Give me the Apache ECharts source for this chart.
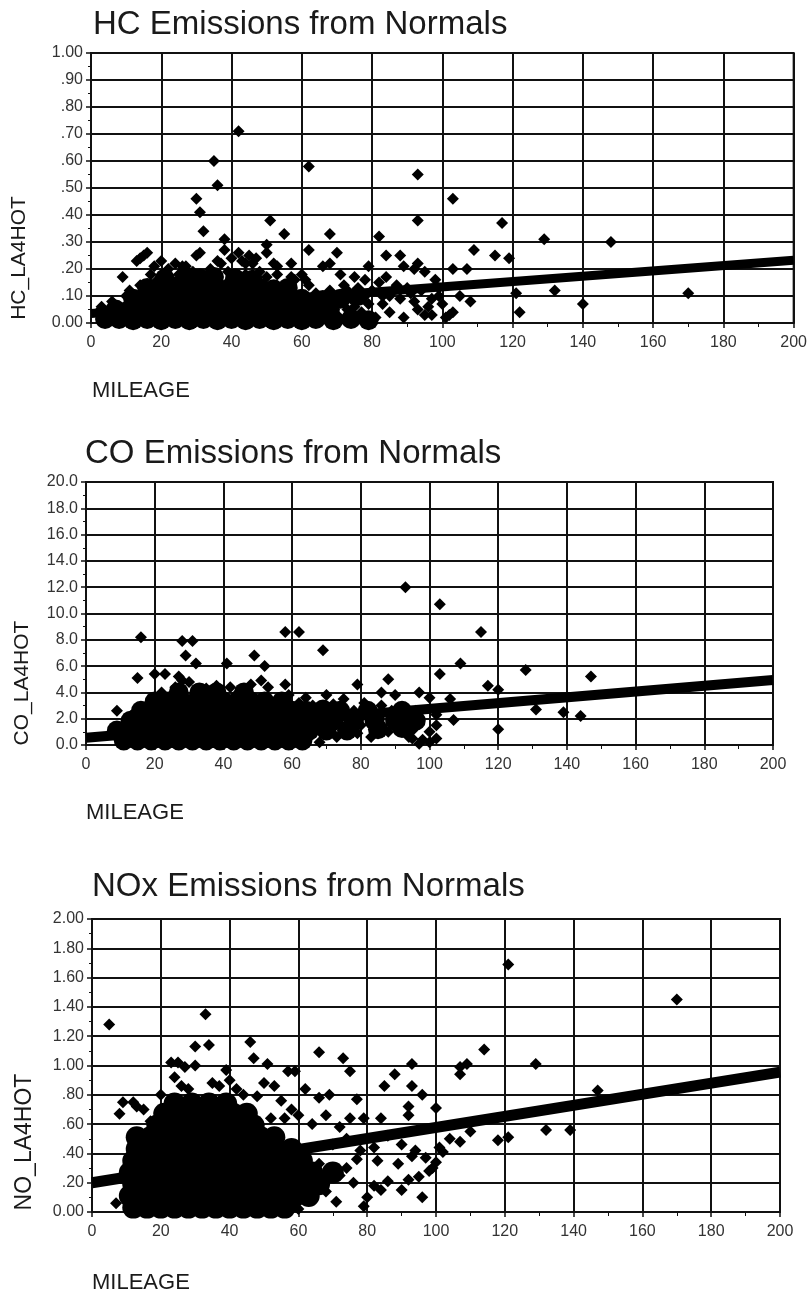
<!DOCTYPE html>
<html>
<head>
<meta charset="utf-8">
<title>Emissions from Normals</title>
<script src="https://cdn.jsdelivr.net/npm/echarts@6/dist/echarts.min.js"></script>
<style>
  html, body { margin: 0; padding: 0; background: #fff; }
  #chart { width: 810px; height: 1300px; }
</style>
</head>
<body>
<div id="chart"></div>
<script>
// tick labels
const mileageTicks = ['0', '20', '40', '60', '80', '100', '120', '140', '160', '180', '200']
const hcTicks = ['0.00', '.10', '.20', '.30', '.40', '.50', '.60', '.70', '.80', '.90', '1.00']
const coTicks = ['0.0', '2.0', '4.0', '6.0', '8.0', '10.0', '12.0', '14.0', '16.0', '18.0', '20.0']
const noTicks = ['0.00', '.20', '.40', '.60', '.80', '1.00', '1.20', '1.40', '1.60', '1.80', '2.00']

// HC: dense cloud, single points, fitted line (mileage, g/mi)
const hcCore = [
  [4,0.015],[8,0.015],[12,0.01],[16,0.015],[20,0.01],[24,0.015],[28,0.01],[32,0.015],[36,0.01],[40,0.015],
  [44,0.01],[48,0.015],[52,0.01],[56,0.015],[60,0.01],[64,0.015],[69,0.01],[74,0.015],[79,0.01],
  [7,0.05],[11,0.05],[15,0.055],[19,0.05],[23,0.055],[27,0.05],[31,0.055],[35,0.05],[39,0.055],[43,0.05],
  [47,0.055],[51,0.05],[55,0.055],[59,0.05],[63,0.045],[68,0.05],
  [12,0.09],[16,0.09],[20,0.095],[24,0.09],[28,0.095],[32,0.09],[36,0.095],[40,0.09],[44,0.095],[48,0.09],
  [52,0.095],[56,0.09],[60,0.09],[66,0.085],[71,0.09],[76,0.1],
  [16,0.13],[20,0.13],[24,0.135],[28,0.13],[32,0.135],[36,0.13],[40,0.135],[44,0.13],[48,0.13],[52,0.125],[56,0.13],
  [21,0.165],[27,0.17],[31,0.165],[35,0.17],[41,0.165],[46,0.16]
]
const hcPoints = [
  [42,0.71],[35,0.60],[36,0.51],[62,0.58],[93,0.55],[103,0.46],[30,0.46],[31,0.41],[51,0.38],[93,0.38],
  [117,0.37],[55,0.33],[68,0.33],[32,0.34],[38,0.31],[82,0.32],[129,0.31],[148,0.30],[50,0.29],[62,0.27],
  [70,0.26],[109,0.27],[115,0.25],[119,0.24],[88,0.25],[170,0.11],[132,0.12],[140,0.07],[122,0.04],[121,0.11],
  [108,0.08],[103,0.20],[107,0.20],[9,0.17],[14,0.24],[15,0.25],[16,0.26],[13,0.23],[30,0.25],[31,0.26],
  [38,0.27],[42,0.26],[45,0.25],[50,0.26],[93,0.22],[102,0.03],[103,0.04],[95,0.03],[96,0.06],[85,0.04],
  [24,0.22],[27,0.21],[37,0.22],[43,0.23],[46,0.22],[53,0.21],[57,0.22],[66,0.21],[68,0.22],[71,0.18],
  [79,0.21],[89,0.21],[92,0.20],[95,0.19],[22,0.20],[34,0.20],[48,0.19],[60,0.18],[75,0.17],[78,0.16],
  [84,0.17],[98,0.16],[88,0.09],[92,0.08],[99,0.10],[100,0.07],[101,0.02],[83,0.07],[90,0.13],[86,0.12],
  [81,0.02],[70,0.03],[75,0.06],[78,0.10],[65,0.04],[67,0.08],[73,0.12],[62,0.14],[64,0.11],[58,0.16],
  [105,0.10],[72,0.14],[76,0.13],[80,0.12],[82,0.15],[85,0.10],[87,0.14],[91,0.11],[94,0.12],[97,0.09],
  [99,0.13],[97,0.03],[93,0.05],[89,0.02],[83,0.10],[79,0.07],[74,0.09],[71,0.10],[77,0.04],[73,0.05],
  [68,0.12],[61,0.16],[57,0.17],[53,0.18],[50,0.17],[44,0.18],[39,0.19],[33,0.18],[29,0.19],[25,0.18],
  [19,0.16],[17,0.18],[14,0.14],[11,0.12],[10,0.10],[6,0.08],[3,0.06],[2,0.04],[36,0.23],[40,0.24],
  [47,0.24],[44,0.22],[52,0.22],[26,0.21],[18,0.21],[20,0.23],[84,0.25]
]
const hcFit = [[0,0.035],[200,0.232]]

// CO
const coCore = [
  [11,0.35],[15,0.35],[19,0.35],[23,0.35],[27,0.35],[31,0.35],[35,0.35],[39,0.35],[43,0.35],[47,0.35],
  [51,0.35],[55,0.35],[59,0.35],[63,0.35],
  [9,1.1],[13,1.1],[17,1.1],[21,1.1],[25,1.1],[29,1.1],[33,1.1],[37,1.1],[41,1.1],[45,1.1],
  [49,1.1],[53,1.1],[57,1.1],[61,1.1],[65,1.1],[70,1.1],[76,1.1],[85,1.2],[92,1.3],
  [13,1.85],[17,1.85],[21,1.85],[25,1.85],[29,1.85],[33,1.85],[37,1.85],[41,1.85],[45,1.85],[49,1.85],
  [53,1.85],[57,1.85],[61,1.85],[66,1.85],[72,1.85],[78,1.85],[84,1.85],[90,1.85],[96,1.85],
  [16,2.6],[20,2.6],[24,2.6],[28,2.6],[32,2.6],[36,2.6],[40,2.6],[44,2.6],[48,2.6],[52,2.6],
  [56,2.6],[60,2.6],[64,2.6],[69,2.7],[74,2.6],[82,2.6],[92,2.6],
  [20,3.3],[24,3.3],[28,3.3],[32,3.3],[36,3.3],[40,3.3],[44,3.3],[48,3.3],[52,3.3],[57,3.3],
  [27,4.0],[33,4.0],[38,4.0],[46,4.0]
]
const coPoints = [
  [93,12.0],[103,10.7],[16,8.2],[28,7.9],[31,7.9],[58,8.6],[62,8.6],[69,7.2],[115,8.6],[29,6.8],
  [32,6.2],[49,6.8],[52,6.0],[41,6.2],[109,6.2],[15,5.1],[103,5.4],[88,5.0],[128,5.7],[147,5.2],
  [117,4.5],[120,4.2],[79,4.6],[131,2.7],[139,2.5],[144,2.2],[120,1.2],[107,1.9],[9,2.6],[13,2.2],
  [20,5.4],[23,5.4],[27,5.2],[28,4.9],[30,4.8],[26,4.4],[22,4.0],[42,4.4],[48,4.6],[51,4.9],
  [58,4.6],[47,4.0],[53,4.4],[35,4.3],[38,4.5],[44,3.9],[59,3.8],[64,3.6],[70,3.8],[75,3.5],
  [81,3.2],[90,3.8],[86,3.0],[93,2.2],[96,1.6],[102,1.5],[102,2.3],[102,0.5],[100,3.6],[97,4.0],
  [106,3.5],[88,1.0],[94,0.6],[98,0.4],[83,0.6],[79,0.9],[73,0.6],[68,0.2],[66,0.9],[70,1.4],
  [75,1.1],[80,1.5],[85,1.4],[90,1.7],[95,1.1],[100,1.0],[96,2.6],[68,2.8],[72,3.1],[78,2.6],
  [84,2.5],[89,2.6],[62,3.2],[66,3.0],[12,1.6],[10,0.8],[100,0.2],[97,0.1],[86,4.0],[95,0.5]
]
const coFit = [[0,0.55],[200,4.95]]

// NOx
const noCore = [
  [12,0.03],[16,0.03],[20,0.03],[24,0.03],[28,0.03],[32,0.03],[36,0.03],[40,0.03],[44,0.03],[48,0.03],[52,0.03],[56,0.03],
  [11,0.11],[15,0.11],[19,0.11],[23,0.11],[27,0.11],[31,0.11],[35,0.11],[39,0.11],[43,0.11],[47,0.11],[51,0.11],[55,0.11],[59,0.11],[63,0.11],
  [12,0.19],[16,0.19],[20,0.19],[24,0.19],[28,0.19],[32,0.19],[36,0.19],[40,0.19],[44,0.19],[48,0.19],[52,0.19],[56,0.19],[60,0.19],[66,0.19],
  [11,0.27],[15,0.27],[19,0.27],[23,0.27],[27,0.27],[31,0.27],[35,0.27],[39,0.27],[43,0.27],[47,0.27],[51,0.27],[55,0.27],[59,0.27],[64,0.27],[70,0.27],
  [12,0.35],[16,0.35],[20,0.35],[24,0.35],[28,0.35],[32,0.35],[36,0.35],[40,0.35],[44,0.35],[48,0.35],[52,0.35],[56,0.35],[61,0.35],
  [13,0.43],[17,0.43],[21,0.43],[25,0.43],[29,0.43],[33,0.43],[37,0.43],[41,0.43],[45,0.43],[49,0.43],[53,0.43],[58,0.43],
  [13,0.51],[17,0.51],[21,0.51],[25,0.51],[29,0.51],[33,0.51],[37,0.51],[41,0.51],[45,0.51],[49,0.51],[53,0.51],
  [19,0.59],[23,0.59],[27,0.59],[31,0.59],[35,0.59],[39,0.59],[43,0.59],[47,0.59],
  [21,0.67],[25,0.67],[29,0.67],[33,0.67],[37,0.67],[41,0.67],[45,0.67],
  [24,0.74],[29,0.74],[34,0.74],[39,0.74]
]
const noPoints = [
  [121,1.69],[170,1.45],[5,1.28],[33,1.35],[30,1.13],[34,1.14],[46,1.16],[47,1.05],[51,1.01],[66,1.09],
  [73,1.05],[75,0.96],[114,1.11],[129,1.01],[107,0.99],[107,0.94],[109,1.01],[93,1.01],[88,0.94],[59,0.96],
  [57,0.96],[147,0.83],[132,0.56],[139,0.56],[118,0.49],[121,0.51],[107,0.48],[101,0.44],[102,0.41],[99,0.30],
  [96,0.10],[71,0.07],[62,0.09],[79,0.04],[84,0.15],[93,0.86],[96,0.80],[100,0.71],[92,0.72],[92,0.66],
  [85,0.86],[79,0.64],[84,0.64],[75,0.64],[77,0.77],[69,0.80],[66,0.78],[62,0.84],[89,0.33],[93,0.38],
  [92,0.22],[86,0.21],[83,0.35],[77,0.36],[74,0.30],[9,0.75],[12,0.75],[8,0.67],[13,0.72],[15,0.70],
  [7,0.06],[23,1.02],[25,1.02],[27,0.99],[24,0.92],[26,0.86],[30,1.00],[39,0.97],[40,0.90],[35,0.88],
  [37,0.86],[42,0.84],[44,0.80],[48,0.79],[50,0.88],[53,0.86],[55,0.76],[58,0.70],[60,0.66],[64,0.60],
  [68,0.66],[72,0.58],[70,0.46],[74,0.50],[78,0.42],[82,0.44],[86,0.52],[90,0.46],[94,0.42],[97,0.37],
  [98,0.28],[95,0.24],[90,0.15],[82,0.18],[76,0.20],[72,0.25],[68,0.14],[66,0.33],[60,0.02],[64,0.20],
  [80,0.10],[20,0.80],[17,0.62],[28,0.84],[100,0.34],[104,0.50],[110,0.55],[56,0.64],[46,0.70],[52,0.64]
]
const noFit = [[0,0.20],[200,0.955]]

const FONT = '"Liberation Sans", Arial, sans-serif'
const INK = '#111'

const panels = [
  { grid: { left: 91, top: 53, width: 704, height: 270 }, max: 1, step: 0.1, ticks: hcTicks,
    core: hcCore, coreSize: 20, points: hcPoints, fit: hcFit, fitWidth: 9,
    title: 'HC Emissions from Normals', titlePos: [93, 25],
    yName: 'HC_LA4HOT', yNamePos: [19, 258], yNameSize: 21, xNamePos: [92, 391] },
  { grid: { left: 86, top: 482, width: 687, height: 263 }, max: 20, step: 2, ticks: coTicks,
    core: coCore, coreSize: 20, points: coPoints, fit: coFit, fitWidth: 10,
    title: 'CO Emissions from Normals', titlePos: [85, 454],
    yName: 'CO_LA4HOT', yNamePos: [22, 683], yNameSize: 21, xNamePos: [86, 813] },
  { grid: { left: 92, top: 919, width: 688, height: 293 }, max: 2, step: 0.2, ticks: noTicks,
    core: noCore, coreSize: 22, points: noPoints, fit: noFit, fitWidth: 11,
    title: 'NOx Emissions from Normals', titlePos: [92, 887],
    yName: 'NO_LA4HOT', yNamePos: [25, 1142], yNameSize: 23, xNamePos: [92, 1283] }
]

const lineStyle = { color: INK, width: 2 }
const labelStyle = { color: '#333', fontSize: 16, fontFamily: FONT }

const option = {
  animation: false,
  backgroundColor: '#fff',
  grid: panels.map(p => ({ ...p.grid, show: true, borderColor: INK, borderWidth: 2 })),
  xAxis: panels.map((p, i) => ({
    gridIndex: i, type: 'value', min: 0, max: 200, interval: 20,
    axisLine: { lineStyle },
    axisTick: { show: true, length: 5, lineStyle: { color: INK, width: 1.5 } },
    minorTick: { show: true, splitNumber: 2, length: 4, lineStyle: { color: INK, width: 1 } },
    splitLine: { show: true, lineStyle },
    axisLabel: { ...labelStyle, margin: 12, formatter: (v) => mileageTicks[Math.round(v / 20)] }
  })),
  yAxis: panels.map((p, i) => ({
    gridIndex: i, type: 'value', min: 0, max: p.max, interval: p.step,
    axisLine: { show: true, lineStyle },
    axisTick: { show: true, length: 5, lineStyle: { color: INK, width: 1.5 } },
    minorTick: { show: true, splitNumber: 2, length: 3, lineStyle: { color: INK, width: 1 } },
    splitLine: { show: true, lineStyle },
    axisLabel: { ...labelStyle, margin: 8, formatter: (v) => p.ticks[Math.round(v / p.step)] }
  })),
  series: panels.flatMap((p, i) => [
    { type: 'scatter', xAxisIndex: i, yAxisIndex: i, data: p.core, symbol: 'circle', symbolSize: p.coreSize,
      itemStyle: { color: '#000', opacity: 1 }, clip: true, silent: true },
    { type: 'scatter', xAxisIndex: i, yAxisIndex: i, data: p.points, symbol: 'diamond', symbolSize: 12,
      itemStyle: { color: '#000', opacity: 1 }, clip: true, silent: true },
    { type: 'line', xAxisIndex: i, yAxisIndex: i, data: p.fit, symbol: 'none',
      lineStyle: { color: '#000', width: p.fitWidth, cap: 'butt' }, clip: true, silent: true }
  ]),
  graphic: panels.flatMap(p => [
    { type: 'text', x: p.titlePos[0], y: p.titlePos[1],
      style: { text: p.title, font: '33px ' + FONT, fill: '#1a1a1a', align: 'left', verticalAlign: 'middle' } },
    { type: 'text', x: p.yNamePos[0], y: p.yNamePos[1], rotation: Math.PI / 2,
      style: { text: p.yName, font: p.yNameSize + 'px ' + FONT, fill: '#1a1a1a', align: 'center', verticalAlign: 'middle' } },
    { type: 'text', x: p.xNamePos[0], y: p.xNamePos[1],
      style: { text: 'MILEAGE', font: '22px ' + FONT, fill: '#1a1a1a', align: 'left', verticalAlign: 'middle' } }
  ])
}

const myChart = echarts.init(document.getElementById('chart'))
myChart.setOption(option)
</script>
</body>
</html>
